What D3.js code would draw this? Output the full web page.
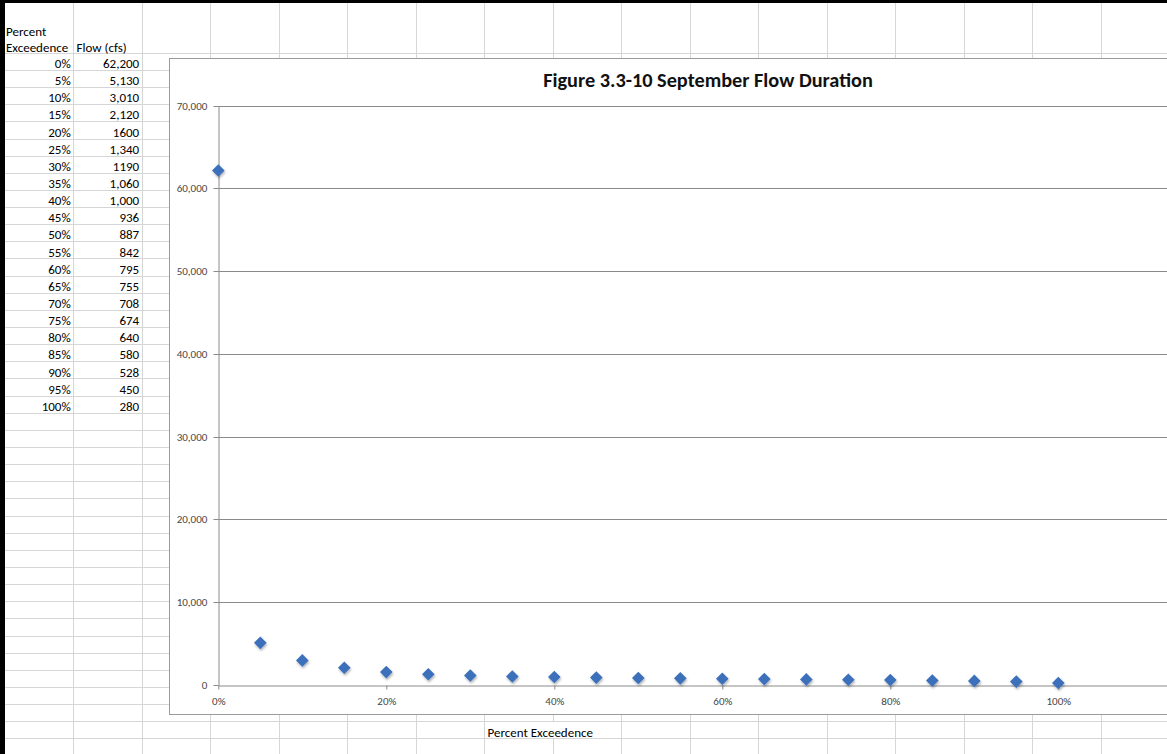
<!DOCTYPE html>
<html>
<head>
<meta charset="utf-8">
<script src="https://cdn.jsdelivr.net/npm/d3@7"></script>
<style>
  html, body { margin: 0; padding: 0; background: #fff; overflow: hidden; }
  svg { display: block; }
  .cell { font-family: Calibri, Carlito, Lato, sans-serif; font-size: 13px; fill: #000; }
  .tick text { font-family: Calibri, Carlito, Lato, sans-serif; font-size: 11px; fill: #474747; }
</style>
</head>
<body>
<svg id="sheet" width="1167" height="754"></svg>
<script>
// September flow-duration table
const exceedancePct = [0, 5, 10, 15, 20, 25, 30, 35, 40, 45, 50, 55, 60, 65, 70, 75, 80, 85, 90, 95, 100];
const flowText = ["62,200", "5,130", "3,010", "2,120", "1600", "1,340", "1190", "1,060", "1,000", "936",
                  "887", "842", "795", "755", "708", "674", "640", "580", "528", "450", "280"];
const flowCfs = flowText.map(t => +t.replace(/,/g, ""));

const yTickValues = [0, 10000, 20000, 30000, 40000, 50000, 60000, 70000];
const xTickValues = [0, 0.2, 0.4, 0.6, 0.8, 1.0];

const headerLine1 = "Percent";
const headerLine2 = "Exceedence";
const headerFlow = "Flow (cfs)";
const chartTitle = "Figure 3.3-10 September Flow Duration";
const xAxisTitle = "Percent Exceedence";

const W = 1167, H = 754;
const svg = d3.select("#sheet");

// ---- worksheet grid ----
const colLeft = 5, colW = 68.5;
const rowTop = 53.3, rowH = 17.14;
const rowY = k => rowTop + k * rowH;
const crisp = v => Math.floor(v) + 0.5;

const grid = svg.append("g").attr("stroke", "#d6d6d6").attr("stroke-width", 1);
for (let x = colLeft + colW; x < W; x += colW) {
  grid.append("line").attr("x1", crisp(x)).attr("x2", crisp(x)).attr("y1", 3).attr("y2", H);
}
for (let k = 0; rowY(k) < H; k++) {
  grid.append("line").attr("x1", colLeft).attr("x2", W).attr("y1", crisp(rowY(k))).attr("y2", crisp(rowY(k)));
}

// sheet frame
svg.append("rect").attr("x", 0).attr("y", 0).attr("width", 5).attr("height", H).attr("fill", "#000");
svg.append("rect").attr("x", 0).attr("y", 0).attr("width", W).attr("height", 3).attr("fill", "#000");

// ---- table cells ----
const cells = svg.append("g").attr("class", "cell");
cells.append("text").attr("x", 6).attr("y", 35.5).text(headerLine1);
cells.append("text").attr("x", 6).attr("y", 51.5).text(headerLine2);
cells.append("text").attr("x", 76.5).attr("y", 51.5).text(headerFlow);

exceedancePct.forEach((p, i) => {
  const base = rowY(i + 1) - 2.4;
  cells.append("text").attr("x", colLeft + colW - 2.8).attr("y", base)
    .attr("text-anchor", "end").text(p + "%");
  cells.append("text").attr("x", colLeft + 2 * colW - 2.8).attr("y", base)
    .attr("text-anchor", "end").text(flowText[i]);
});

// axis title cell spilling over into the neighbouring cell
const titleRow = 39;
svg.append("rect")
  .attr("x", crisp(colLeft + 7 * colW) + 0.5).attr("y", crisp(rowY(titleRow)) + 0.5)
  .attr("width", 130).attr("height", crisp(rowY(titleRow + 1)) - crisp(rowY(titleRow)) - 1)
  .attr("fill", "#fff");
svg.append("text").attr("class", "cell")
  .attr("x", colLeft + 7 * colW + 3).attr("y", rowY(titleRow + 1) - 2.4).text(xAxisTitle);

// ---- chart object ----
const chartBox = { x: 169.5, y: 58.5, w: 1100, h: 656 };
svg.append("rect")
  .attr("x", chartBox.x).attr("y", chartBox.y)
  .attr("width", chartBox.w).attr("height", chartBox.h)
  .attr("fill", "#fff").attr("stroke", "#9b9b9b").attr("stroke-width", 1);

const defs = svg.append("defs");
const shadow = defs.append("filter").attr("id", "markerShadow")
  .attr("x", "-50%").attr("y", "-50%").attr("width", "200%").attr("height", "200%");
shadow.append("feDropShadow").attr("dx", 0.8).attr("dy", 1.8).attr("stdDeviation", 1)
  .attr("flood-color", "#000").attr("flood-opacity", 0.3);

const x = d3.scaleLinear().domain([0, 1.2]).range([218.3, 1226.3]);
const y = d3.scaleLinear().domain([0, 70000]).range([685.3, 106]);

// horizontal gridlines
svg.append("g").selectAll("line").data(yTickValues.filter(v => v > 0)).join("line")
  .attr("x1", x(0)).attr("x2", W)
  .attr("y1", d => crisp(y(d))).attr("y2", d => crisp(y(d)))
  .attr("stroke", "#8a8a8a").attr("stroke-width", 1);

// y axis
const yAxis = svg.append("g").attr("transform", `translate(${crisp(x(0))},0)`)
  .call(d3.axisLeft(y).tickValues(yTickValues).tickFormat(d3.format(",")).tickSize(5).tickSizeOuter(0).tickPadding(6.2));
yAxis.select(".domain").attr("stroke", "#8a8a8a");
yAxis.selectAll(".tick line").attr("stroke", "#8a8a8a");
yAxis.selectAll(".tick").attr("transform", d => `translate(0,${crisp(y(d))})`);

// x axis
const xAxis = svg.append("g").attr("transform", `translate(0,${crisp(y(0))})`)
  .call(d3.axisBottom(x).tickValues(xTickValues).tickFormat(d3.format(".0%")).tickSize(4).tickSizeOuter(0));
xAxis.select(".domain").attr("stroke", "#8a8a8a");
xAxis.selectAll(".tick line").attr("stroke", "#8a8a8a");
xAxis.selectAll(".tick text").attr("y", 19.2).attr("dy", null);

// title
const title = svg.append("text")
  .attr("x", 708).attr("y", 87)
  .attr("text-anchor", "middle")
  .style("font-family", "Calibri, Carlito, Lato, sans-serif")
  .style("font-weight", "bold").style("font-size", "17px").style("fill", "#111")
  .text(chartTitle);
const tw = title.node().getComputedTextLength();
title.style("font-size", (17 * 330 / tw).toFixed(2) + "px");

// diamond markers
const diamond = d3.symbol().type(d3.symbolSquare).size(80);
svg.append("g").attr("filter", "url(#markerShadow)")
  .selectAll("path").data(exceedancePct.map((p, i) => ({ p: p / 100, q: flowCfs[i] }))).join("path")
  .attr("d", diamond)
  .attr("transform", d => `translate(${x(d.p)},${y(d.q)}) rotate(45)`)
  .attr("fill", "#3c70bb");
</script>
</body>
</html>
